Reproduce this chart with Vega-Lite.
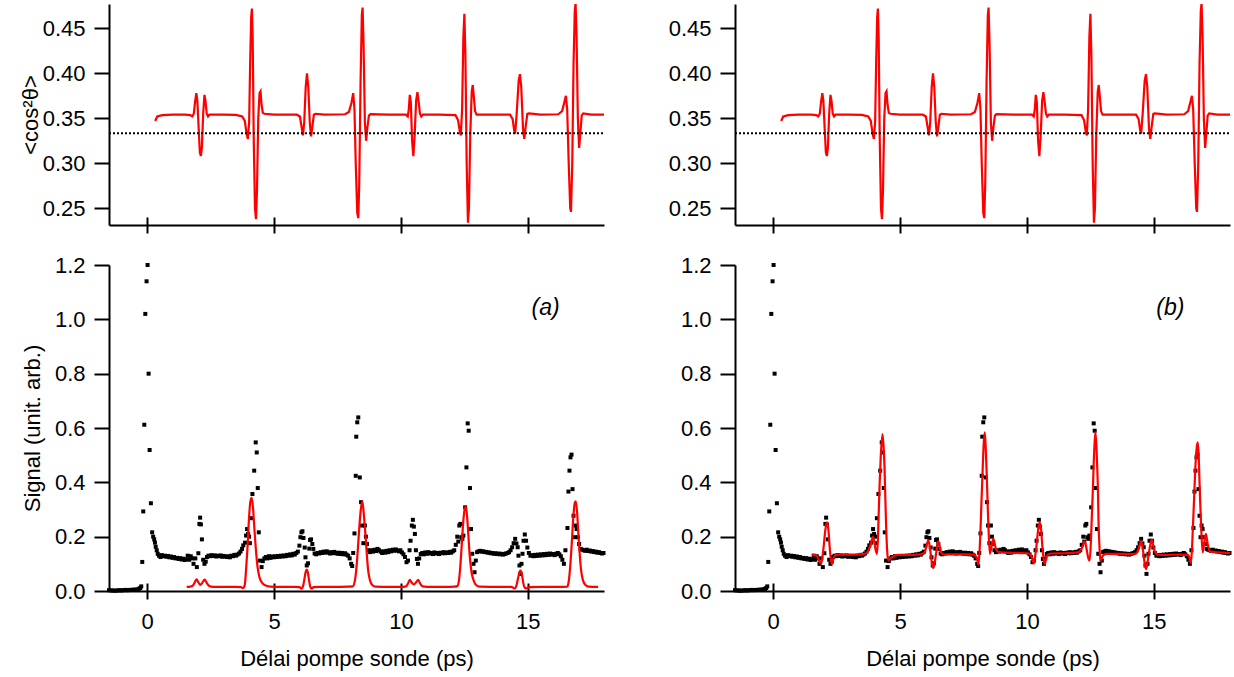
{
  "$schema": "https://vega.github.io/schema/vega-lite/v6.json",
  "background": "white",
  "padding": {"left": 19, "top": 4, "right": 2, "bottom": 2},
  "config": {
    "font": "Liberation Sans",
    "view": {"stroke": null},
    "axis": {"grid": false, "domainColor": "black", "domainWidth": 2, "tickColor": "black", "tickWidth": 2, "labelColor": "black", "labelFont": "Liberation Sans", "labelFontSize": 22, "titleFont": "Liberation Sans", "titleFontSize": 22, "titleFontWeight": "normal", "titleColor": "black"}
  },
  "datasets": {
    "cos2": [
      {"t":0.32,"v":0.347},{"t":0.4,"v":0.352},{"t":0.6,"v":0.3535},{"t":1.0,"v":0.354},{"t":1.5,"v":0.354},{"t":1.7,"v":0.3535},{"t":1.78,"v":0.352},{"t":1.84,"v":0.355},{"t":1.89,"v":0.368},{"t":1.94,"v":0.378},{"t":1.98,"v":0.37},{"t":2.03,"v":0.34},{"t":2.08,"v":0.312},{"t":2.12,"v":0.308},{"t":2.16,"v":0.318},{"t":2.21,"v":0.355},{"t":2.26,"v":0.376},{"t":2.3,"v":0.37},{"t":2.35,"v":0.355},{"t":2.4,"v":0.352},{"t":2.46,"v":0.354},{"t":3.0,"v":0.354},{"t":3.5,"v":0.3538},{"t":3.75,"v":0.352},{"t":3.85,"v":0.347},{"t":3.92,"v":0.333},{"t":3.97,"v":0.327},{"t":4.02,"v":0.345},{"t":4.06,"v":0.41},{"t":4.1,"v":0.462},{"t":4.13,"v":0.472},{"t":4.16,"v":0.44},{"t":4.2,"v":0.33},{"t":4.25,"v":0.25},{"t":4.29,"v":0.238},{"t":4.33,"v":0.27},{"t":4.38,"v":0.35},{"t":4.43,"v":0.378},{"t":4.47,"v":0.38},{"t":4.51,"v":0.365},{"t":4.56,"v":0.356},{"t":4.62,"v":0.355},{"t":5.0,"v":0.354},{"t":5.9,"v":0.354},{"t":6.02,"v":0.352},{"t":6.09,"v":0.34},{"t":6.14,"v":0.331},{"t":6.19,"v":0.345},{"t":6.25,"v":0.385},{"t":6.3,"v":0.4},{"t":6.35,"v":0.385},{"t":6.41,"v":0.345},{"t":6.46,"v":0.33},{"t":6.51,"v":0.34},{"t":6.57,"v":0.354},{"t":6.63,"v":0.355},{"t":7.0,"v":0.354},{"t":7.8,"v":0.3545},{"t":7.95,"v":0.357},{"t":8.05,"v":0.367},{"t":8.12,"v":0.378},{"t":8.17,"v":0.36},{"t":8.22,"v":0.3},{"t":8.28,"v":0.245},{"t":8.32,"v":0.239},{"t":8.36,"v":0.28},{"t":8.41,"v":0.39},{"t":8.46,"v":0.465},{"t":8.49,"v":0.473},{"t":8.53,"v":0.43},{"t":8.58,"v":0.345},{"t":8.63,"v":0.325},{"t":8.68,"v":0.34},{"t":8.74,"v":0.353},{"t":8.8,"v":0.3545},{"t":9.5,"v":0.354},{"t":10.2,"v":0.354},{"t":10.27,"v":0.352},{"t":10.31,"v":0.36},{"t":10.35,"v":0.376},{"t":10.39,"v":0.368},{"t":10.44,"v":0.325},{"t":10.49,"v":0.308},{"t":10.54,"v":0.33},{"t":10.6,"v":0.37},{"t":10.65,"v":0.379},{"t":10.7,"v":0.368},{"t":10.75,"v":0.355},{"t":10.8,"v":0.352},{"t":10.86,"v":0.354},{"t":11.5,"v":0.354},{"t":12.15,"v":0.3535},{"t":12.25,"v":0.348},{"t":12.32,"v":0.335},{"t":12.36,"v":0.331},{"t":12.41,"v":0.36},{"t":12.46,"v":0.44},{"t":12.5,"v":0.466},{"t":12.54,"v":0.42},{"t":12.59,"v":0.3},{"t":12.64,"v":0.234},{"t":12.68,"v":0.25},{"t":12.73,"v":0.33},{"t":12.79,"v":0.38},{"t":12.83,"v":0.387},{"t":12.87,"v":0.375},{"t":12.92,"v":0.358},{"t":12.98,"v":0.354},{"t":13.5,"v":0.354},{"t":14.3,"v":0.354},{"t":14.4,"v":0.349},{"t":14.46,"v":0.337},{"t":14.5,"v":0.333},{"t":14.56,"v":0.355},{"t":14.64,"v":0.392},{"t":14.69,"v":0.399},{"t":14.74,"v":0.385},{"t":14.81,"v":0.338},{"t":14.86,"v":0.327},{"t":14.92,"v":0.342},{"t":14.98,"v":0.355},{"t":15.04,"v":0.3555},{"t":15.5,"v":0.354},{"t":16.2,"v":0.3545},{"t":16.35,"v":0.358},{"t":16.44,"v":0.368},{"t":16.5,"v":0.375},{"t":16.55,"v":0.36},{"t":16.61,"v":0.3},{"t":16.67,"v":0.25},{"t":16.7,"v":0.246},{"t":16.75,"v":0.3},{"t":16.8,"v":0.41},{"t":16.85,"v":0.47},{"t":16.88,"v":0.478},{"t":16.92,"v":0.44},{"t":16.97,"v":0.35},{"t":17.02,"v":0.317},{"t":17.06,"v":0.33},{"t":17.12,"v":0.353},{"t":17.18,"v":0.3555},{"t":17.5,"v":0.354},{"t":18.0,"v":0.354}
    ],
    "sim": [
      {"t":1.56,"v":0.015},{"t":1.7,"v":0.016},{"t":1.8,"v":0.02},{"t":1.88,"v":0.032},{"t":1.95,"v":0.043},{"t":2.02,"v":0.032},{"t":2.1,"v":0.022},{"t":2.18,"v":0.031},{"t":2.27,"v":0.042},{"t":2.35,"v":0.03},{"t":2.45,"v":0.018},{"t":2.6,"v":0.015},{"t":3.0,"v":0.015},{"t":3.5,"v":0.015},{"t":3.7,"v":0.014},{"t":3.78,"v":0.011},{"t":3.82,"v":0.014},{"t":3.86,"v":0.03},{"t":3.9,"v":0.08},{"t":3.95,"v":0.15},{"t":4.01,"v":0.26},{"t":4.07,"v":0.33},{"t":4.12,"v":0.343},{"t":4.17,"v":0.31},{"t":4.22,"v":0.24},{"t":4.28,"v":0.16},{"t":4.35,"v":0.09},{"t":4.43,"v":0.05},{"t":4.55,"v":0.028},{"t":4.7,"v":0.019},{"t":4.85,"v":0.016},{"t":5.2,"v":0.015},{"t":5.8,"v":0.015},{"t":6.0,"v":0.014},{"t":6.09,"v":0.009},{"t":6.15,"v":0.02},{"t":6.2,"v":0.045},{"t":6.25,"v":0.072},{"t":6.29,"v":0.079},{"t":6.33,"v":0.07},{"t":6.38,"v":0.04},{"t":6.43,"v":0.015},{"t":6.48,"v":0.009},{"t":6.56,"v":0.014},{"t":6.8,"v":0.015},{"t":7.4,"v":0.015},{"t":7.9,"v":0.016},{"t":8.1,"v":0.017},{"t":8.18,"v":0.035},{"t":8.25,"v":0.088},{"t":8.3,"v":0.15},{"t":8.35,"v":0.22},{"t":8.42,"v":0.3},{"t":8.48,"v":0.33},{"t":8.54,"v":0.28},{"t":8.61,"v":0.198},{"t":8.66,"v":0.13},{"t":8.71,"v":0.075},{"t":8.78,"v":0.04},{"t":8.87,"v":0.022},{"t":9.0,"v":0.016},{"t":9.5,"v":0.015},{"t":10.0,"v":0.015},{"t":10.2,"v":0.017},{"t":10.28,"v":0.028},{"t":10.35,"v":0.041},{"t":10.43,"v":0.03},{"t":10.51,"v":0.024},{"t":10.6,"v":0.032},{"t":10.68,"v":0.041},{"t":10.76,"v":0.027},{"t":10.86,"v":0.017},{"t":11.2,"v":0.015},{"t":11.8,"v":0.015},{"t":12.1,"v":0.016},{"t":12.22,"v":0.018},{"t":12.28,"v":0.035},{"t":12.33,"v":0.08},{"t":12.39,"v":0.16},{"t":12.46,"v":0.26},{"t":12.52,"v":0.305},{"t":12.56,"v":0.31},{"t":12.61,"v":0.27},{"t":12.66,"v":0.2},{"t":12.71,"v":0.13},{"t":12.78,"v":0.07},{"t":12.86,"v":0.04},{"t":12.96,"v":0.022},{"t":13.1,"v":0.016},{"t":13.9,"v":0.015},{"t":14.35,"v":0.015},{"t":14.48,"v":0.01},{"t":14.55,"v":0.02},{"t":14.62,"v":0.05},{"t":14.68,"v":0.072},{"t":14.72,"v":0.075},{"t":14.77,"v":0.06},{"t":14.82,"v":0.03},{"t":14.88,"v":0.012},{"t":14.95,"v":0.01},{"t":15.05,"v":0.014},{"t":15.5,"v":0.015},{"t":16.2,"v":0.015},{"t":16.55,"v":0.016},{"t":16.61,"v":0.035},{"t":16.66,"v":0.08},{"t":16.72,"v":0.16},{"t":16.79,"v":0.27},{"t":16.85,"v":0.325},{"t":16.89,"v":0.33},{"t":16.94,"v":0.29},{"t":16.99,"v":0.21},{"t":17.04,"v":0.14},{"t":17.1,"v":0.075},{"t":17.17,"v":0.04},{"t":17.27,"v":0.022},{"t":17.4,"v":0.016},{"t":17.77,"v":0.015}
    ],
    "fit": [
      {"t":1.53,"v":0.134},{"t":1.65,"v":0.132},{"t":1.73,"v":0.128},{"t":1.8,"v":0.115},{"t":1.89,"v":0.1},{"t":1.95,"v":0.13},{"t":1.99,"v":0.161},{"t":2.06,"v":0.225},{"t":2.12,"v":0.253},{"t":2.18,"v":0.225},{"t":2.23,"v":0.161},{"t":2.28,"v":0.115},{"t":2.32,"v":0.1},{"t":2.38,"v":0.12},{"t":2.45,"v":0.132},{"t":2.6,"v":0.134},{"t":3.0,"v":0.134},{"t":3.4,"v":0.135},{"t":3.65,"v":0.138},{"t":3.75,"v":0.148},{"t":3.85,"v":0.173},{"t":3.93,"v":0.198},{"t":3.98,"v":0.185},{"t":4.02,"v":0.161},{"t":4.09,"v":0.137},{"t":4.13,"v":0.19},{"t":4.16,"v":0.283},{"t":4.2,"v":0.4},{"t":4.24,"v":0.492},{"t":4.31,"v":0.578},{"t":4.36,"v":0.52},{"t":4.39,"v":0.455},{"t":4.42,"v":0.35},{"t":4.45,"v":0.247},{"t":4.5,"v":0.14},{"t":4.54,"v":0.112},{"t":4.6,"v":0.118},{"t":4.68,"v":0.124},{"t":4.8,"v":0.13},{"t":4.9,"v":0.133},{"t":5.3,"v":0.133},{"t":5.7,"v":0.134},{"t":5.92,"v":0.138},{"t":5.99,"v":0.146},{"t":6.05,"v":0.17},{"t":6.12,"v":0.186},{"t":6.17,"v":0.165},{"t":6.21,"v":0.137},{"t":6.26,"v":0.1},{"t":6.31,"v":0.085},{"t":6.36,"v":0.1},{"t":6.42,"v":0.137},{"t":6.47,"v":0.17},{"t":6.51,"v":0.183},{"t":6.56,"v":0.165},{"t":6.61,"v":0.143},{"t":6.73,"v":0.134},{"t":7.0,"v":0.135},{"t":7.5,"v":0.135},{"t":7.9,"v":0.134},{"t":7.98,"v":0.128},{"t":8.04,"v":0.118},{"t":8.09,"v":0.097},{"t":8.13,"v":0.14},{"t":8.17,"v":0.222},{"t":8.21,"v":0.33},{"t":8.25,"v":0.431},{"t":8.29,"v":0.53},{"t":8.34,"v":0.584},{"t":8.38,"v":0.52},{"t":8.42,"v":0.419},{"t":8.46,"v":0.3},{"t":8.49,"v":0.222},{"t":8.54,"v":0.137},{"t":8.6,"v":0.161},{"t":8.65,"v":0.185},{"t":8.68,"v":0.192},{"t":8.73,"v":0.175},{"t":8.78,"v":0.155},{"t":8.88,"v":0.143},{"t":9.2,"v":0.141},{"t":9.6,"v":0.14},{"t":10.0,"v":0.139},{"t":10.11,"v":0.137},{"t":10.18,"v":0.128},{"t":10.27,"v":0.102},{"t":10.32,"v":0.125},{"t":10.37,"v":0.161},{"t":10.44,"v":0.225},{"t":10.5,"v":0.253},{"t":10.56,"v":0.225},{"t":10.61,"v":0.161},{"t":10.66,"v":0.115},{"t":10.7,"v":0.1},{"t":10.76,"v":0.12},{"t":10.83,"v":0.134},{"t":11.0,"v":0.138},{"t":11.5,"v":0.139},{"t":12.0,"v":0.142},{"t":12.08,"v":0.146},{"t":12.18,"v":0.161},{"t":12.27,"v":0.183},{"t":12.32,"v":0.17},{"t":12.36,"v":0.149},{"t":12.42,"v":0.12},{"t":12.47,"v":0.112},{"t":12.52,"v":0.18},{"t":12.56,"v":0.283},{"t":12.6,"v":0.38},{"t":12.63,"v":0.467},{"t":12.67,"v":0.55},{"t":12.7,"v":0.584},{"t":12.74,"v":0.53},{"t":12.77,"v":0.455},{"t":12.8,"v":0.36},{"t":12.82,"v":0.259},{"t":12.86,"v":0.16},{"t":12.89,"v":0.112},{"t":12.94,"v":0.12},{"t":12.99,"v":0.13},{"t":13.12,"v":0.137},{"t":13.5,"v":0.137},{"t":14.0,"v":0.136},{"t":14.3,"v":0.138},{"t":14.4,"v":0.155},{"t":14.5,"v":0.183},{"t":14.55,"v":0.165},{"t":14.59,"v":0.137},{"t":14.64,"v":0.1},{"t":14.69,"v":0.081},{"t":14.74,"v":0.1},{"t":14.8,"v":0.137},{"t":14.86,"v":0.17},{"t":14.92,"v":0.188},{"t":14.97,"v":0.17},{"t":15.02,"v":0.149},{"t":15.15,"v":0.134},{"t":15.5,"v":0.133},{"t":16.0,"v":0.134},{"t":16.33,"v":0.133},{"t":16.4,"v":0.124},{"t":16.46,"v":0.102},{"t":16.51,"v":0.17},{"t":16.55,"v":0.259},{"t":16.59,"v":0.35},{"t":16.63,"v":0.443},{"t":16.68,"v":0.52},{"t":16.73,"v":0.547},{"t":16.77,"v":0.49},{"t":16.79,"v":0.431},{"t":16.82,"v":0.34},{"t":16.86,"v":0.247},{"t":16.92,"v":0.143},{"t":16.98,"v":0.173},{"t":17.05,"v":0.21},{"t":17.12,"v":0.173},{"t":17.21,"v":0.146},{"t":17.38,"v":0.143},{"t":17.7,"v":0.141},{"t":18.0,"v":0.14}
    ],
    "expt": [
      {"t":-1.5,"v":0.003},{"t":-1.42,"v":0.002},{"t":-1.34,"v":0.002},{"t":-1.26,"v":0.001},{"t":-1.18,"v":0.002},{"t":-1.1,"v":0.003},{"t":-1.02,"v":0.002},{"t":-0.94,"v":0.003},{"t":-0.86,"v":0.004},{"t":-0.78,"v":0.003},{"t":-0.7,"v":0.004},{"t":-0.62,"v":0.004},{"t":-0.54,"v":0.005},{"t":-0.46,"v":0.005},{"t":-0.38,"v":0.006},{"t":-0.32,"v":0.008},{"t":-0.27,"v":0.011},{"t":-0.23,"v":0.017},
      {"t":-0.19,"v":0.107},{"t":-0.15,"v":0.293},{"t":-0.11,"v":0.612},{"t":-0.07,"v":1.02},{"t":-0.02,"v":1.14},{"t":0.02,"v":1.2},{"t":0.06,"v":0.8},{"t":0.1,"v":0.519},{"t":0.15,"v":0.323},{"t":0.2,"v":0.216},{"t":0.24,"v":0.2},{"t":0.28,"v":0.19},{"t":0.31,"v":0.178},{"t":0.34,"v":0.163},{"t":0.38,"v":0.15},{"t":0.42,"v":0.137},
      {"t":0.47,"v":0.13},{"t":0.53,"v":0.125},{"t":0.58,"v":0.132},{"t":0.64,"v":0.128},{"t":0.7,"v":0.13},{"t":0.76,"v":0.126},{"t":0.82,"v":0.129},{"t":0.88,"v":0.124},{"t":0.94,"v":0.127},{"t":1.0,"v":0.122},{"t":1.06,"v":0.125},{"t":1.12,"v":0.12},{"t":1.18,"v":0.122},{"t":1.24,"v":0.118},{"t":1.3,"v":0.121},{"t":1.36,"v":0.116},{"t":1.42,"v":0.119},{"t":1.48,"v":0.114},{"t":1.54,"v":0.117},{"t":1.6,"v":0.13},{"t":1.66,"v":0.115},{"t":1.72,"v":0.128},{"t":1.78,"v":0.12},{"t":1.83,"v":0.1},{"t":1.9,"v":0.12},{"t":1.96,"v":0.088},
      {"t":2.02,"v":0.139},{"t":2.06,"v":0.247},{"t":2.09,"v":0.27},{"t":2.12,"v":0.245},{"t":2.16,"v":0.19},{"t":2.21,"v":0.115},{"t":2.26,"v":0.1},{"t":2.31,"v":0.108},{"t":2.36,"v":0.125},{"t":2.42,"v":0.13},
      {"t":2.48,"v":0.128},{"t":2.54,"v":0.132},{"t":2.6,"v":0.129},{"t":2.66,"v":0.131},{"t":2.72,"v":0.127},{"t":2.78,"v":0.13},{"t":2.84,"v":0.128},{"t":2.9,"v":0.131},{"t":2.96,"v":0.126},{"t":3.02,"v":0.129},{"t":3.08,"v":0.127},{"t":3.14,"v":0.125},{"t":3.2,"v":0.128},{"t":3.26,"v":0.124},{"t":3.32,"v":0.13},{"t":3.38,"v":0.128},{"t":3.44,"v":0.133},{"t":3.5,"v":0.13},{"t":3.56,"v":0.134},{"t":3.62,"v":0.138},{"t":3.68,"v":0.145},{"t":3.74,"v":0.155},{"t":3.79,"v":0.168},
      {"t":3.86,"v":0.178},{"t":3.9,"v":0.204},{"t":3.94,"v":0.228},{"t":3.98,"v":0.21},{"t":4.02,"v":0.2},{"t":4.05,"v":0.176},{"t":4.09,"v":0.268},{"t":4.15,"v":0.357},{"t":4.22,"v":0.443},{"t":4.28,"v":0.547},{"t":4.32,"v":0.51},{"t":4.36,"v":0.379},{"t":4.4,"v":0.216},{"t":4.45,"v":0.112},{"t":4.51,"v":0.088},{"t":4.56,"v":0.11},{"t":4.62,"v":0.12},
      {"t":4.68,"v":0.125},{"t":4.74,"v":0.12},{"t":4.8,"v":0.128},{"t":4.86,"v":0.122},{"t":4.92,"v":0.127},{"t":4.98,"v":0.124},{"t":5.04,"v":0.128},{"t":5.1,"v":0.125},{"t":5.16,"v":0.129},{"t":5.22,"v":0.126},{"t":5.28,"v":0.13},{"t":5.34,"v":0.127},{"t":5.4,"v":0.131},{"t":5.46,"v":0.128},{"t":5.52,"v":0.133},{"t":5.58,"v":0.13},{"t":5.64,"v":0.135},{"t":5.7,"v":0.131},{"t":5.76,"v":0.137},{"t":5.82,"v":0.134},{"t":5.88,"v":0.14},{"t":5.94,"v":0.145},
      {"t":6.0,"v":0.167},{"t":6.04,"v":0.198},{"t":6.08,"v":0.216},{"t":6.12,"v":0.22},{"t":6.16,"v":0.195},{"t":6.21,"v":0.16},{"t":6.24,"v":0.124},{"t":6.29,"v":0.094},{"t":6.34,"v":0.102},{"t":6.39,"v":0.156},{"t":6.42,"v":0.188},{"t":6.46,"v":0.19},{"t":6.51,"v":0.173},{"t":6.55,"v":0.155},{"t":6.6,"v":0.138},
      {"t":6.66,"v":0.135},{"t":6.72,"v":0.14},{"t":6.78,"v":0.138},{"t":6.84,"v":0.143},{"t":6.9,"v":0.14},{"t":6.96,"v":0.145},{"t":7.02,"v":0.141},{"t":7.08,"v":0.146},{"t":7.14,"v":0.142},{"t":7.2,"v":0.138},{"t":7.26,"v":0.143},{"t":7.32,"v":0.139},{"t":7.38,"v":0.144},{"t":7.44,"v":0.14},{"t":7.5,"v":0.137},{"t":7.56,"v":0.141},{"t":7.62,"v":0.136},{"t":7.68,"v":0.14},{"t":7.74,"v":0.135},{"t":7.8,"v":0.139},{"t":7.86,"v":0.134},{"t":7.92,"v":0.13},{"t":7.98,"v":0.12},{"t":8.04,"v":0.1},{"t":8.08,"v":0.092},
      {"t":8.12,"v":0.14},{"t":8.17,"v":0.212},{"t":8.22,"v":0.424},{"t":8.24,"v":0.568},{"t":8.28,"v":0.621},{"t":8.32,"v":0.639},{"t":8.38,"v":0.418},{"t":8.43,"v":0.327},{"t":8.47,"v":0.241},{"t":8.52,"v":0.176},{"t":8.58,"v":0.241},{"t":8.62,"v":0.2},{"t":8.66,"v":0.173},{"t":8.72,"v":0.15},{"t":8.78,"v":0.143},
      {"t":8.84,"v":0.15},{"t":8.9,"v":0.145},{"t":8.96,"v":0.152},{"t":9.02,"v":0.147},{"t":9.08,"v":0.155},{"t":9.14,"v":0.15},{"t":9.2,"v":0.145},{"t":9.26,"v":0.14},{"t":9.32,"v":0.146},{"t":9.38,"v":0.141},{"t":9.44,"v":0.148},{"t":9.5,"v":0.143},{"t":9.56,"v":0.15},{"t":9.62,"v":0.146},{"t":9.68,"v":0.152},{"t":9.74,"v":0.148},{"t":9.8,"v":0.153},{"t":9.86,"v":0.149},{"t":9.92,"v":0.146},{"t":9.98,"v":0.15},{"t":10.04,"v":0.142},{"t":10.1,"v":0.135},{"t":10.16,"v":0.125},{"t":10.22,"v":0.106},{"t":10.28,"v":0.112},
      {"t":10.34,"v":0.15},{"t":10.38,"v":0.185},{"t":10.43,"v":0.241},{"t":10.47,"v":0.262},{"t":10.51,"v":0.237},{"t":10.55,"v":0.21},{"t":10.59,"v":0.15},{"t":10.63,"v":0.118},{"t":10.67,"v":0.1},{"t":10.72,"v":0.12},{"t":10.78,"v":0.136},
      {"t":10.84,"v":0.14},{"t":10.9,"v":0.135},{"t":10.96,"v":0.142},{"t":11.02,"v":0.137},{"t":11.08,"v":0.143},{"t":11.14,"v":0.138},{"t":11.2,"v":0.14},{"t":11.26,"v":0.136},{"t":11.32,"v":0.142},{"t":11.38,"v":0.138},{"t":11.44,"v":0.14},{"t":11.5,"v":0.136},{"t":11.56,"v":0.141},{"t":11.62,"v":0.139},{"t":11.68,"v":0.143},{"t":11.74,"v":0.139},{"t":11.8,"v":0.142},{"t":11.86,"v":0.14},{"t":11.92,"v":0.144},{"t":11.98,"v":0.141},{"t":12.04,"v":0.146},{"t":12.1,"v":0.15},
      {"t":12.16,"v":0.17},{"t":12.22,"v":0.2},{"t":12.26,"v":0.182},{"t":12.3,"v":0.241},{"t":12.34,"v":0.247},{"t":12.38,"v":0.198},{"t":12.42,"v":0.192},{"t":12.46,"v":0.204},{"t":12.53,"v":0.308},{"t":12.58,"v":0.455},{"t":12.63,"v":0.617},{"t":12.67,"v":0.59},{"t":12.72,"v":0.379},{"t":12.76,"v":0.228},{"t":12.81,"v":0.137},{"t":12.86,"v":0.1},{"t":12.9,"v":0.069},{"t":12.95,"v":0.112},{"t":13.0,"v":0.143},
      {"t":13.06,"v":0.146},{"t":13.12,"v":0.148},{"t":13.18,"v":0.145},{"t":13.24,"v":0.146},{"t":13.3,"v":0.143},{"t":13.36,"v":0.144},{"t":13.42,"v":0.141},{"t":13.48,"v":0.142},{"t":13.54,"v":0.139},{"t":13.6,"v":0.14},{"t":13.66,"v":0.137},{"t":13.72,"v":0.139},{"t":13.78,"v":0.136},{"t":13.84,"v":0.138},{"t":13.9,"v":0.135},{"t":13.96,"v":0.137},{"t":14.02,"v":0.134},{"t":14.08,"v":0.136},{"t":14.14,"v":0.138},{"t":14.2,"v":0.14},{"t":14.26,"v":0.143},
      {"t":14.32,"v":0.15},{"t":14.38,"v":0.161},{"t":14.44,"v":0.176},{"t":14.5,"v":0.192},{"t":14.55,"v":0.175},{"t":14.6,"v":0.161},{"t":14.63,"v":0.13},{"t":14.67,"v":0.094},{"t":14.71,"v":0.063},{"t":14.75,"v":0.1},{"t":14.79,"v":0.137},{"t":14.83,"v":0.185},{"t":14.88,"v":0.208},{"t":14.93,"v":0.185},{"t":14.98,"v":0.16},{"t":15.04,"v":0.14},{"t":15.1,"v":0.13},
      {"t":15.16,"v":0.132},{"t":15.22,"v":0.128},{"t":15.28,"v":0.133},{"t":15.34,"v":0.129},{"t":15.4,"v":0.134},{"t":15.46,"v":0.13},{"t":15.52,"v":0.135},{"t":15.58,"v":0.131},{"t":15.64,"v":0.136},{"t":15.7,"v":0.132},{"t":15.76,"v":0.137},{"t":15.82,"v":0.133},{"t":15.88,"v":0.138},{"t":15.94,"v":0.134},{"t":16.0,"v":0.136},{"t":16.06,"v":0.132},{"t":16.12,"v":0.137},{"t":16.18,"v":0.14},{"t":16.24,"v":0.135},{"t":16.3,"v":0.128},{"t":16.36,"v":0.115},{"t":16.42,"v":0.1},
      {"t":16.48,"v":0.15},{"t":16.56,"v":0.232},{"t":16.6,"v":0.366},{"t":16.64,"v":0.443},{"t":16.68,"v":0.492},{"t":16.72,"v":0.502},{"t":16.76,"v":0.375},{"t":16.8,"v":0.277},{"t":16.84,"v":0.198},{"t":16.88,"v":0.241},{"t":16.92,"v":0.228},{"t":16.97,"v":0.198},{"t":17.02,"v":0.173},{"t":17.08,"v":0.155},{"t":17.14,"v":0.152},
      {"t":17.2,"v":0.15},{"t":17.26,"v":0.148},{"t":17.32,"v":0.152},{"t":17.38,"v":0.147},{"t":17.44,"v":0.149},{"t":17.5,"v":0.145},{"t":17.56,"v":0.147},{"t":17.62,"v":0.143},{"t":17.68,"v":0.145},{"t":17.74,"v":0.141},{"t":17.8,"v":0.143},{"t":17.86,"v":0.14},{"t":17.92,"v":0.138},{"t":17.98,"v":0.14}
    ]
  },
  "spacing": 62,
  "hconcat": [
    {
      "spacing": 20,
      "vconcat": [
        {
          "width": 495, "height": 221,
          "resolve": {"axis": {"x": "independent"}},
          "layer": [
            {
              "data": {"name": "cos2"},
              "mark": {"type": "line", "color": "#ff0000", "strokeWidth": 2.2, "clip": true},
              "encoding": {
                "x": {"field": "t", "type": "quantitative", "scale": {"domain": [-1.5, 18], "nice": false, "zero": false}, "axis": {"orient": "bottom", "values": [0, 5, 10, 15], "labels": false, "tickSize": 8, "title": null}},
                "y": {"field": "v", "type": "quantitative", "scale": {"domain": [0.2314, 0.477], "nice": false, "zero": false}, "axis": {"values": [0.25, 0.3, 0.35, 0.4, 0.45], "format": ".2f", "tickSize": 15, "labelPadding": 9, "title": "<cos²θ>", "titlePadding": 0}}
              }
            },
            {
              "data": {"values": [{}]},
              "mark": {"type": "rule", "color": "black", "strokeWidth": 2, "strokeDash": [2, 2]},
              "encoding": {
                "x": {"datum": -1.5, "type": "quantitative", "axis": {"orient": "bottom", "values": [0, 5, 10, 15], "labels": false, "domain": false, "tickSize": -8, "title": null}},
                "x2": {"datum": 18},
                "y": {"datum": 0.3333, "type": "quantitative"}
              }
            }
          ]
        },
        {
          "width": 495, "height": 326,
          "resolve": {"axis": {"x": "independent"}},
          "layer": [
            {
              "data": {"name": "expt"},
              "mark": {"type": "square", "color": "black", "size": 16, "opacity": 1, "filled": true},
              "encoding": {
                "x": {"field": "t", "type": "quantitative", "scale": {"domain": [-1.5, 18], "nice": false, "zero": false}, "axis": {"orient": "bottom", "values": [0, 5, 10, 15], "tickSize": 8, "labelPadding": 12, "title": "Délai pompe sonde (ps)", "titlePadding": 16}},
                "y": {"field": "v", "type": "quantitative", "scale": {"domain": [0, 1.2], "nice": false, "zero": false}, "axis": {"values": [0, 0.2, 0.4, 0.6, 0.8, 1.0, 1.2], "format": ".1f", "tickSize": 15, "labelPadding": 9, "title": "Signal (unit. arb.)", "titlePadding": 10}}
              }
            },
            {
              "data": {"name": "sim"},
              "mark": {"type": "line", "color": "#ff0000", "strokeWidth": 2.2, "interpolate": "monotone"},
              "encoding": {
                "x": {"field": "t", "type": "quantitative", "axis": {"orient": "bottom", "values": [0, 5, 10, 15], "labels": false, "domain": false, "tickSize": -8, "title": null}},
                "y": {"field": "v", "type": "quantitative"}
              }
            },
            {
              "data": {"values": [{}]},
              "mark": {"type": "text", "text": "(a)", "fontSize": 23, "fontStyle": "italic", "font": "Liberation Sans", "color": "black"},
              "encoding": {
                "x": {"datum": 15.7, "type": "quantitative", "axis": null},
                "y": {"datum": 1.04, "type": "quantitative"}
              }
            }
          ]
        }
      ]
    },
    {
      "spacing": 20,
      "vconcat": [
        {
          "width": 495, "height": 221,
          "resolve": {"axis": {"x": "independent"}},
          "layer": [
            {
              "data": {"name": "cos2"},
              "mark": {"type": "line", "color": "#ff0000", "strokeWidth": 2.2, "clip": true},
              "encoding": {
                "x": {"field": "t", "type": "quantitative", "scale": {"domain": [-1.5, 18], "nice": false, "zero": false}, "axis": {"orient": "bottom", "values": [0, 5, 10, 15], "labels": false, "tickSize": 8, "title": null}},
                "y": {"field": "v", "type": "quantitative", "scale": {"domain": [0.2314, 0.477], "nice": false, "zero": false}, "axis": {"values": [0.25, 0.3, 0.35, 0.4, 0.45], "format": ".2f", "tickSize": 15, "labelPadding": 9, "title": null}}
              }
            },
            {
              "data": {"values": [{}]},
              "mark": {"type": "rule", "color": "black", "strokeWidth": 2, "strokeDash": [2, 2]},
              "encoding": {
                "x": {"datum": -1.5, "type": "quantitative", "axis": {"orient": "bottom", "values": [0, 5, 10, 15], "labels": false, "domain": false, "tickSize": -8, "title": null}},
                "x2": {"datum": 18},
                "y": {"datum": 0.3333, "type": "quantitative"}
              }
            }
          ]
        },
        {
          "width": 495, "height": 326,
          "resolve": {"axis": {"x": "independent"}},
          "layer": [
            {
              "data": {"name": "expt"},
              "mark": {"type": "square", "color": "black", "size": 16, "opacity": 1, "filled": true},
              "encoding": {
                "x": {"field": "t", "type": "quantitative", "scale": {"domain": [-1.5, 18], "nice": false, "zero": false}, "axis": {"orient": "bottom", "values": [0, 5, 10, 15], "tickSize": 8, "labelPadding": 12, "title": "Délai pompe sonde (ps)", "titlePadding": 16}},
                "y": {"field": "v", "type": "quantitative", "scale": {"domain": [0, 1.2], "nice": false, "zero": false}, "axis": {"values": [0, 0.2, 0.4, 0.6, 0.8, 1.0, 1.2], "format": ".1f", "tickSize": 15, "labelPadding": 9, "title": null}}
              }
            },
            {
              "data": {"name": "fit"},
              "mark": {"type": "line", "color": "#ff0000", "strokeWidth": 2.2, "interpolate": "monotone"},
              "encoding": {
                "x": {"field": "t", "type": "quantitative", "axis": {"orient": "bottom", "values": [0, 5, 10, 15], "labels": false, "domain": false, "tickSize": -8, "title": null}},
                "y": {"field": "v", "type": "quantitative"}
              }
            },
            {
              "data": {"values": [{}]},
              "mark": {"type": "text", "text": "(b)", "fontSize": 23, "fontStyle": "italic", "font": "Liberation Sans", "color": "black"},
              "encoding": {
                "x": {"datum": 15.65, "type": "quantitative", "axis": null},
                "y": {"datum": 1.04, "type": "quantitative"}
              }
            }
          ]
        }
      ]
    }
  ]
}
